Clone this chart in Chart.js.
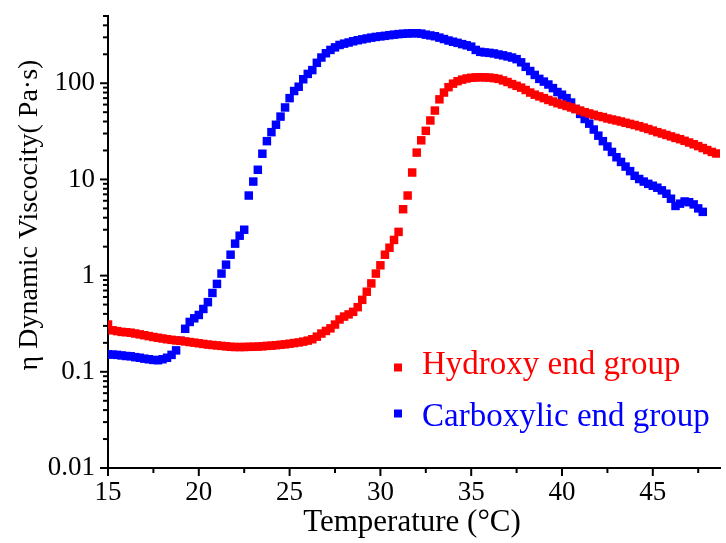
<!DOCTYPE html>
<html>
<head>
<meta charset="utf-8">
<script src="https://cdn.jsdelivr.net/npm/chart.js@4.4.1/dist/chart.umd.min.js"></script>
<style>
  html, body { margin: 0; padding: 0; background: #fff; }
  #wrap { width: 726px; height: 543px; }
</style>
</head>
<body>
<div id="wrap"><canvas id="viscChart" width="726" height="543"></canvas></div>
<script>
// ============ Viscosity vs temperature (log scale), two end groups ============
const SERIF = '"Liberation Serif", "Times New Roman", serif';

// temperature in °C, one reading every 0.25 degree
const temperature = [
    15, 15.25, 15.5, 15.75, 16, 16.25, 16.5, 16.75,
    17, 17.25, 17.5, 17.75, 18, 18.25, 18.5, 18.75,
    19, 19.25, 19.5, 19.75, 20, 20.25, 20.5, 20.75,
    21, 21.25, 21.5, 21.75, 22, 22.25, 22.5, 22.75,
    23, 23.25, 23.5, 23.75, 24, 24.25, 24.5, 24.75,
    25, 25.25, 25.5, 25.75, 26, 26.25, 26.5, 26.75,
    27, 27.25, 27.5, 27.75, 28, 28.25, 28.5, 28.75,
    29, 29.25, 29.5, 29.75, 30, 30.25, 30.5, 30.75,
    31, 31.25, 31.5, 31.75, 32, 32.25, 32.5, 32.75,
    33, 33.25, 33.5, 33.75, 34, 34.25, 34.5, 34.75,
    35, 35.25, 35.5, 35.75, 36, 36.25, 36.5, 36.75,
    37, 37.25, 37.5, 37.75, 38, 38.25, 38.5, 38.75,
    39, 39.25, 39.5, 39.75, 40, 40.25, 40.5, 40.75,
    41, 41.25, 41.5, 41.75, 42, 42.25, 42.5, 42.75,
    43, 43.25, 43.5, 43.75, 44, 44.25, 44.5, 44.75,
    45, 45.25, 45.5, 45.75, 46, 46.25, 46.5, 46.75,
    47, 47.25, 47.5, 47.75, 48, 48.25, 48.5
];

// dynamic viscosity (Pa·s)
const hydroxy = [
    0.31, 0.27, 0.265, 0.26, 0.258, 0.255, 0.25, 0.245,
    0.24, 0.235, 0.23, 0.226, 0.222, 0.218, 0.215, 0.212,
    0.21, 0.207, 0.204, 0.201, 0.198, 0.195, 0.192, 0.19,
    0.188, 0.186, 0.184, 0.182, 0.181, 0.181, 0.181, 0.182,
    0.182, 0.183, 0.184, 0.186, 0.187, 0.189, 0.191, 0.193,
    0.196, 0.199, 0.202, 0.206, 0.211, 0.218, 0.232, 0.25,
    0.266, 0.283, 0.31, 0.35, 0.375, 0.395, 0.42, 0.47,
    0.56, 0.68, 0.83, 1.05, 1.28, 1.65, 1.95, 2.35,
    2.85, 4.9, 6.8, 11.8, 19, 25.5, 32, 41,
    52, 68, 80, 91, 99, 105, 109, 112,
    114, 115, 115.5, 115, 114.5, 113, 111, 107,
    103, 98, 94, 90, 85, 80, 76, 73,
    70, 67, 64.5, 62, 60, 58, 56, 54,
    52, 50, 48.5, 47, 45.5, 44.5, 43, 42,
    41, 40, 38.8, 37.8, 36.8, 35.7, 34.6, 33.4,
    32.2, 31, 30, 29, 28, 27, 26.2, 25.2,
    24.2, 23.2, 22.2, 21.2, 20.2, 19.3, 18.6
];

const carboxylic = [
    0.152, 0.151, 0.15, 0.148, 0.146, 0.145, 0.142, 0.14,
    0.137, 0.135, 0.133, 0.132, 0.135, 0.14, 0.15, 0.167,
    0.21, 0.28, 0.33, 0.36, 0.39, 0.45, 0.53, 0.66,
    0.82, 1.05, 1.3, 1.65, 2.15, 2.6, 3.0, 6.8,
    9.5, 12.6, 18.5, 25, 31, 37, 45, 56,
    70, 83, 92, 110, 125, 137, 163, 185,
    205, 222, 236, 250, 258, 265, 273, 280,
    286, 292, 298, 303, 307, 311, 316, 320,
    324, 327, 329, 331, 331, 328, 320, 314,
    308, 298, 288, 278, 270, 263, 255, 248,
    240, 222, 212, 209, 207, 204, 199, 195,
    190, 185, 178, 165, 148, 134, 122, 111,
    104, 97, 89, 81, 76, 70, 63, 54,
    48, 42.5, 38, 33, 28.5, 25, 22, 19.3,
    17, 15.2, 13.6, 12.2, 10.9, 10.1, 9.5, 9.0,
    8.6, 8.2, 7.7, 7.1, 6.3, 5.3, 5.6, 5.9,
    5.8, 5.5, 5.0, 4.6
];

const seriesNames = ['Hydroxy end group', 'Carboxylic end group'];
const seriesColors = ['#ff0000', '#0000ff'];

const xTickValues = [15, 17.5, 20, 22.5, 25, 27.5, 30, 32.5, 35, 37.5, 40, 42.5, 45, 47.5];
const yMajorTicks = [0.01, 0.1, 1, 10, 100];
const yMajorLabels = ['0.01', '0.1', '1', '10', '100'];

function toPoints(values) {
    return values.map((v, i) => ({ x: temperature[i], y: v }));
}

// minor log ticks 2..9 in each decade, plus majors, up to the top of the axis
function logTicks(max) {
    const out = [];
    yMajorTicks.forEach(d => {
        for (let m = 1; m <= 9; m++) {
            const v = +(d * m).toPrecision(3);
            if (v <= max) out.push({ value: v });
        }
    });
    return out;
}

// axis ticks drawn by hand so the minor ones can be shorter
const tickMarks = {
    id: 'tickMarks',
    afterDraw(chart) {
        const { ctx, chartArea, scales } = chart;
        ctx.save();
        ctx.strokeStyle = '#000';
        ctx.lineWidth = 2;
        scales.x.ticks.forEach(t => {
            const px = scales.x.getPixelForValue(t.value);
            const len = (t.value % 5 === 0) ? 8 : 5;
            ctx.beginPath();
            ctx.moveTo(px, chartArea.bottom);
            ctx.lineTo(px, chartArea.bottom + len);
            ctx.stroke();
        });
        scales.y.ticks.forEach(t => {
            const py = scales.y.getPixelForValue(t.value);
            const len = yMajorTicks.includes(t.value) ? 8 : 5;
            ctx.beginPath();
            ctx.moveTo(chartArea.left, py);
            ctx.lineTo(chartArea.left - len, py);
            ctx.stroke();
        });
        ctx.restore();
    }
};

// axis titles and the in-plot legend
const labelsAndLegend = {
    id: 'labelsAndLegend',
    afterDraw(chart) {
        const { ctx } = chart;
        ctx.save();
        ctx.fillStyle = '#000';
        ctx.textAlign = 'center';
        ctx.textBaseline = 'middle';
        ctx.font = '31px ' + SERIF;
        ctx.fillText('Temperature (\u00B0C)', 412, 523);

        ctx.translate(30, 215);
        ctx.rotate(-Math.PI / 2);
        ctx.font = '28px ' + SERIF;
        ctx.fillText('\u03B7 Dynamic Viscocity( Pa\u00B7s)', 0, 0);
        ctx.restore();

        ctx.save();
        ctx.font = '33px ' + SERIF;
        ctx.textAlign = 'left';
        ctx.textBaseline = 'alphabetic';
        const rows = [{ sq: 367.5, base: 374 }, { sq: 413.5, base: 426 }];
        chart.data.datasets.forEach((ds, i) => {
            ctx.fillStyle = ds.backgroundColor;
            ctx.fillRect(394, rows[i].sq - 4, 8, 8);
            ctx.fillText(ds.label, 422, rows[i].base);
        });
        ctx.restore();
    }
};

const ctx = document.getElementById('viscChart');
new Chart(ctx, {
    type: 'scatter',
    data: {
        datasets: [
            {
                label: seriesNames[0],
                data: toPoints(hydroxy),
                backgroundColor: seriesColors[0],
                borderColor: seriesColors[0],
                pointStyle: 'rect',
                pointRadius: 6,
                borderWidth: 0
            },
            {
                label: seriesNames[1],
                data: toPoints(carboxylic),
                backgroundColor: seriesColors[1],
                borderColor: seriesColors[1],
                pointStyle: 'rect',
                pointRadius: 6,
                borderWidth: 0
            }
        ]
    },
    options: {
        responsive: false,
        animation: false,
        layout: { padding: { top: 16, right: 0, left: 0, bottom: 0 } },
        plugins: { legend: { display: false }, tooltip: { enabled: false } },
        scales: {
            x: {
                type: 'linear',
                min: 15,
                max: 48.7,
                afterBuildTicks: s => { s.ticks = xTickValues.map(v => ({ value: v })); },
                afterFit: s => { s.height = 75; s.paddingLeft = 0; s.paddingRight = 0; },
                grid: { display: false, drawTicks: false },
                border: { display: true, color: '#000', width: 2 },
                ticks: {
                    autoSkip: false,
                    maxRotation: 0,
                    padding: 9,
                    color: '#000',
                    font: { family: SERIF, size: 27 },
                    callback: v => (v % 5 === 0 ? String(v) : '')
                }
            },
            y: {
                type: 'logarithmic',
                min: 0.01,
                max: 500,
                afterBuildTicks: s => { s.ticks = logTicks(500); },
                afterFit: s => { s.width = 108; s.paddingTop = 0; s.paddingBottom = 0; },
                grid: { display: false, drawTicks: false },
                border: { display: true, color: '#000', width: 2 },
                ticks: {
                    autoSkip: false,
                    padding: 13,
                    color: '#000',
                    font: { family: SERIF, size: 27 },
                    callback: v => {
                        const k = yMajorTicks.indexOf(v);
                        return k >= 0 ? yMajorLabels[k] : '';
                    }
                }
            }
        }
    },
    plugins: [tickMarks, labelsAndLegend]
});
</script>
</body>
</html>
